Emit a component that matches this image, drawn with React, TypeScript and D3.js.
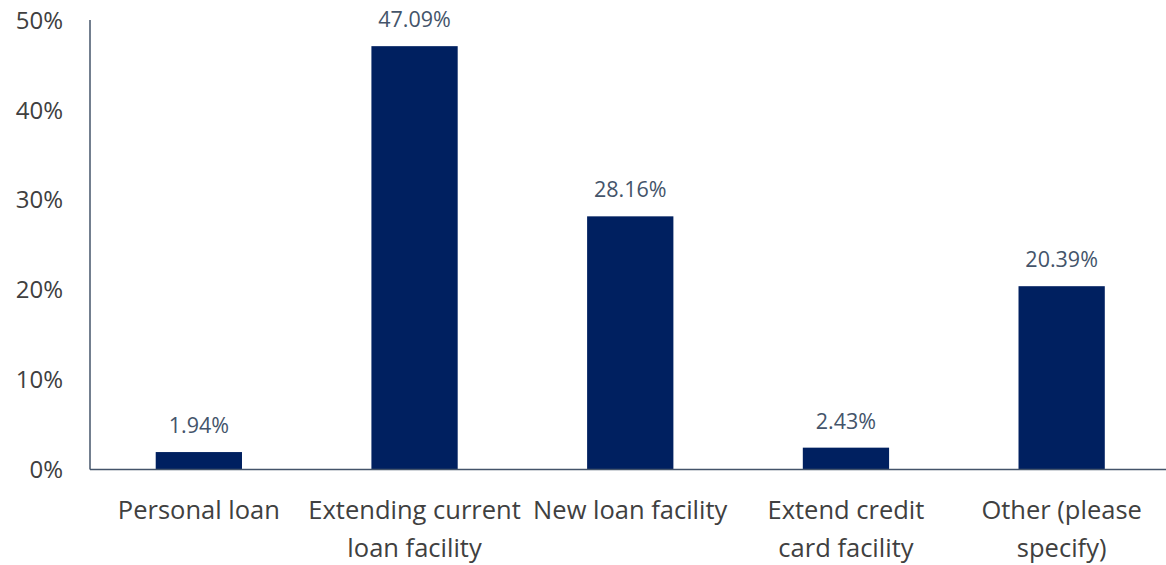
import React from "react";
import * as d3 from "d3";

const categories: string[][] = [
  ["Personal loan"],
  ["Extending current", "loan facility"],
  ["New loan facility"],
  ["Extend credit", "card facility"],
  ["Other (please", "specify)"],
];
const values: number[] = [1.94, 47.09, 28.16, 2.43, 20.39];
const yTicks: number[] = [0, 10, 20, 30, 40, 50];

const W = 1166;
const H = 565;
const FONT = "'Open Sans', 'Noto Sans', sans-serif";

export default function App() {
  const x = d3
    .scaleBand<number>()
    .domain(values.map((_, i) => i))
    .range([91, 1169.5])
    .paddingInner(0.6)
    .paddingOuter(0.3);
  const y = d3.scaleLinear().domain([0, 50]).range([469.5, 20]);

  return (
    <svg
      width={W}
      height={H}
      style={{ position: "absolute", left: 0, top: 0, background: "#fff" }}
      fontFamily={FONT}
    >
      {yTicks.map((t) => (
        <text
          key={t}
          x={63}
          y={y(t)}
          dy="0.36em"
          textAnchor="end"
          fontSize={24}
          fill="#404040"
        >
          {t}%
        </text>
      ))}
      {values.map((v, i) => (
        <g key={i}>
          <rect
            x={x(i)}
            y={y(v)}
            width={x.bandwidth()}
            height={y(0) - y(v)}
            fill="#002060"
          />
          <text
            x={(x(i) as number) + x.bandwidth() / 2}
            y={y(v) - 19}
            textAnchor="middle"
            fontSize={21.5}
            fill="#44546a"
          >
            {v.toFixed(2)}%
          </text>
          {categories[i].map((line, j) => (
            <text
              key={j}
              x={(x(i) as number) + x.bandwidth() / 2}
              y={519 + j * 38}
              textAnchor="middle"
              fontSize={25.5}
              fill="#404040"
            >
              {line}
            </text>
          ))}
        </g>
      ))}
      <line x1={90} x2={90} y1={20} y2={469.5} stroke="#44546a" strokeWidth={1.5} />
      <line x1={90} x2={1166} y1={469.5} y2={469.5} stroke="#44546a" strokeWidth={1.5} />
    </svg>
  );
}
